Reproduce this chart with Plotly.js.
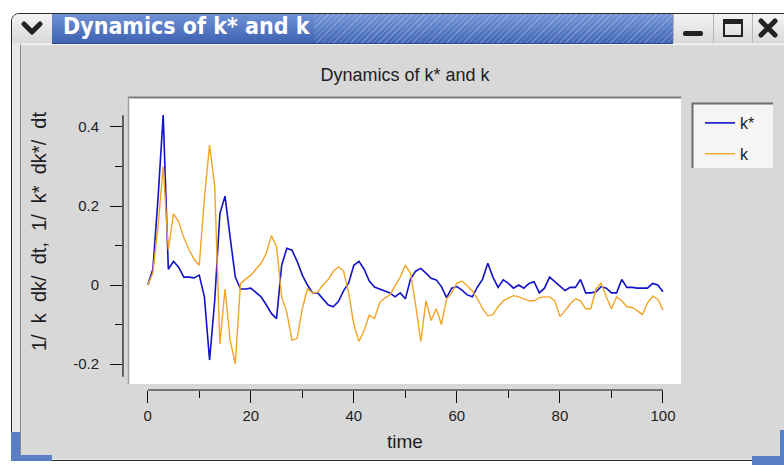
<!DOCTYPE html>
<html><head><meta charset="utf-8">
<script src="https://cdn.plot.ly/plotly-3.0.1.min.js"></script>
<style>
html,body{margin:0;padding:0;background:#fff;width:784px;height:465px;overflow:hidden;}
#win{position:absolute;left:11px;top:13px;width:790px;height:446px;border:1px solid #2a2a2a;border-radius:8px 0 0 0;background:#e8e8e8;}
#content{position:absolute;left:20px;top:44px;width:780px;height:414px;background:#d8d8d8;border-left:1px solid #8c8c8c;border-top:1px solid #f2f2f2;}
#tbar{position:absolute;left:52px;top:14px;width:621px;height:29px;
 background:repeating-linear-gradient(135deg,rgba(255,255,255,0) 0px,rgba(255,255,255,0) 3px,rgba(255,255,255,0.22) 3px,rgba(255,255,255,0.22) 4px),linear-gradient(to bottom,#7396d8,#4366b6);
 border-bottom:1px solid #2c4a8a;}
#tbarL{position:absolute;left:52px;top:14px;width:262px;height:29px;background:linear-gradient(to bottom,#6f92d6,#3f62b2);}
#ttext{position:absolute;left:63px;top:13px;height:29px;line-height:29px;color:#fff;font:bold 23px "DejaVu Sans Condensed","DejaVu Sans",sans-serif;white-space:nowrap;}
.btn{position:absolute;top:14px;height:29px;background:linear-gradient(to bottom,#f4f4f4,#d9d9d9);border-left:1px solid #b5b5b5;}
#plot{position:absolute;left:0;top:0;width:784px;height:465px;}
.blue{position:absolute;background:#5a7ec6;}
</style></head>
<body>
<div id="win"></div>
<div id="content"></div>
<div class="btn" style="left:12px;width:40px;border-left:none;border-radius:7px 0 0 0;">
 <svg width="40" height="29"><polyline points="12,10 20,18 28,10" fill="none" stroke="#222" stroke-width="5" stroke-linejoin="round" stroke-linecap="round"/></svg></div>
<div id="tbar"></div>
<div id="tbarL"></div>
<div id="ttext">Dynamics of k* and k</div>
<div class="btn" style="left:673px;width:39px;"><svg width="39" height="29"><rect x="9" y="17" width="20" height="5" rx="2" fill="#222"/></svg></div>
<div class="btn" style="left:713px;width:38px;"><svg width="38" height="29"><rect x="10" y="6" width="18" height="16" fill="none" stroke="#222" stroke-width="2"/><rect x="10" y="6" width="18" height="4" fill="#222"/></svg></div>
<div class="btn" style="left:752px;width:32px;"><svg width="32" height="29"><path d="M8,7 L22,21 M22,7 L8,21" stroke="#222" stroke-width="5" stroke-linecap="round"/></svg></div>
<div class="blue" style="left:11px;top:432px;width:9px;height:28px;"></div>
<div class="blue" style="left:11px;top:455px;width:41px;height:6px;"></div>
<div class="blue" style="left:752px;top:456px;width:32px;height:9px;"></div>
<div class="blue" style="left:780px;top:430px;width:4px;height:35px;"></div>
<div id="plot"></div>
<script>
// ---- data ----
var time = [0,1,2,3,4,5,6,7,8,9,10,11,12,13,14,15,16,17,18,19,20,21,22,23,24,25,26,27,28,29,30,31,32,33,34,35,36,37,38,39,40,41,42,43,44,45,46,47,48,49,50,51,52,53,54,55,56,57,58,59,60,61,62,63,64,65,66,67,68,69,70,71,72,73,74,75,76,77,78,79,80,81,82,83,84,85,86,87,88,89,90,91,92,93,94,95,96,97,98,99,100];
var kStarRate = [
 0, 0.04, 0.22, 0.43, 0.04, 0.06, 0.045, 0.02, 0.02, 0.018,
 0.025, -0.03, -0.19, -0.04, 0.18, 0.225, 0.12, 0.02, -0.01, -0.01,
 -0.008, -0.02, -0.03, -0.05, -0.072, -0.085, 0.05, 0.093, 0.088, 0.06,
 0.025, 0, -0.02, -0.02, -0.034, -0.05, -0.055, -0.042, -0.015, 0.005,
 0.05, 0.06, 0.04, 0.01, -0.005, -0.01, -0.015, -0.02, -0.03, -0.02,
 -0.035, 0.015, 0.035, 0.042, 0.03, 0.017, 0.013, -0.004, -0.032, -0.008,
 -0.004, -0.013, -0.025, -0.03, -0.005, 0.015, 0.055, 0.02, -0.006, 0.013,
 0.004, -0.008, 0, -0.008, 0.004, 0.008, -0.02, -0.008, 0.02, 0.008,
 -0.004, -0.014, -0.006, -0.006, 0.014, -0.02, -0.02, -0.017, -0.004, -0.008,
 -0.02, -0.02, 0.014, -0.006, -0.006, -0.008, -0.008, -0.008, 0.004, 0,
 -0.017];
var kRate = [
 0, 0.03, 0.15, 0.3, 0.09, 0.18, 0.16, 0.12, 0.09, 0.065,
 0.05, 0.22, 0.354, 0.25, -0.15, -0.01, -0.14, -0.2, 0.004, 0.015,
 0.025, 0.04, 0.055, 0.08, 0.125, 0.097, -0.03, -0.07, -0.14, -0.135,
 -0.06, -0.01, -0.02, -0.018, 0, 0.013, 0.034, 0.046, 0.036, -0.02,
 -0.1, -0.143, -0.115, -0.076, -0.085, -0.045, -0.033, -0.025, -0.003, 0.02,
 0.05, 0.03, -0.05, -0.143, -0.04, -0.09, -0.06, -0.1, -0.035, -0.02,
 0.005, 0.01, -0.002, -0.015, -0.035, -0.06, -0.078, -0.075, -0.055, -0.04,
 -0.033, -0.027, -0.03, -0.036, -0.04, -0.04, -0.032, -0.03, -0.03, -0.04,
 -0.08, -0.065, -0.048, -0.035, -0.04, -0.06, -0.06, -0.01, 0.005, -0.03,
 -0.06, -0.03, -0.04, -0.055, -0.057, -0.065, -0.075, -0.045, -0.028, -0.036,
 -0.063];
var seriesNames = ['k*', 'k'];
var xTickVals = [0, 20, 40, 60, 80, 100];
var xTickText = ['0', '20', '40', '60', '80', '100'];
var xMinorVals = [10, 30, 50, 70, 90];
var yTickVals = [-0.2, 0, 0.2, 0.4];
var yTickText = ['-0.2', '0', '0.2', '0.4'];
var yMinorVals = [-0.1, 0.1, 0.3];
var chartTitle = 'Dynamics of k* and k';
var xTitle = 'time';
var yTitle = '1/\u00a0 k\u00a0 dk/\u00a0 dt,\u00a0 1/\u00a0 k*\u00a0 dk*/\u00a0 dt';

// ---- styling ----
var FONT = 'Liberation Sans, Arial, Helvetica, sans-serif';
var TXT = '#1e1e1e';
var PW = 558, PH = 292; // plot area px
function px2x(p){ return (p - 123) / PW; }
function py2y(p){ return (390 - p) / PH; }

var traces = [
 {x: time, y: kStarRate, name: seriesNames[0], type: 'scatter', mode: 'lines',
  line: {color: '#1212c8', width: 1.6}, legendgroup: 'a'},
 {x: time, y: kRate, name: seriesNames[1], type: 'scatter', mode: 'lines',
  line: {color: '#f2a526', width: 1.4}, legendgroup: 'b'}
];

var shapes = [
 // white plotting panel
 {type:'rect', xref:'paper', yref:'paper', x0:px2x(128), x1:px2x(681), y0:py2y(384), y1:py2y(97), fillcolor:'#ffffff', line:{width:0}, layer:'below'},
 {type:'line', xref:'paper', yref:'paper', x0:px2x(128), x1:px2x(681), y0:py2y(97.5), y1:py2y(97.5), line:{color:'#7a7a7a', width:2}, layer:'below'},
 {type:'line', xref:'paper', yref:'paper', x0:px2x(128.5), x1:px2x(128.5), y0:py2y(384), y1:py2y(97), line:{color:'#9c9c9c', width:1.5}, layer:'below'},
 // axis lines
 {type:'line', xref:'x', yref:'paper', x0:0, x1:100, y0:0, y1:0, line:{color:'#111', width:1.2}},
 {type:'line', xref:'paper', yref:'y', x0:0, x1:0, y0:-0.232, y1:0.43, line:{color:'#111', width:1.2}},
 // legend panel
 {type:'rect', xref:'paper', yref:'paper', x0:px2x(692), x1:px2x(773), y0:py2y(168), y1:py2y(103), fillcolor:'#f5f5f5', line:{width:0}, layer:'below'},
 {type:'line', xref:'paper', yref:'paper', x0:px2x(692), x1:px2x(773), y0:py2y(103.5), y1:py2y(103.5), line:{color:'#6c6c6c', width:2}},
 {type:'line', xref:'paper', yref:'paper', x0:px2x(692.5), x1:px2x(692.5), y0:py2y(168), y1:py2y(103), line:{color:'#6c6c6c', width:2}}
];

var layout = {
 width: 784, height: 465,
 margin: {l:123, r:103, t:98, b:75, pad:0},
 paper_bgcolor: 'rgba(0,0,0,0)', plot_bgcolor: 'rgba(0,0,0,0)',
 font: {family: FONT, size: 14, color: TXT},
 title: {text: chartTitle, xref:'container', yref:'container', x: 405/784, y: 1 - 75/465,
         xanchor:'center', yanchor:'middle', font:{family: FONT, size: 18, color: TXT}},
 xaxis: {range:[-4.8, 103.5], showgrid:false, zeroline:false, showline:false,
         tickmode:'array', tickvals: xTickVals, ticktext: xTickText,
         ticks:'outside', ticklen:12, tickwidth:1, tickcolor:'#111',
         minor:{tickmode:'array', tickvals: xMinorVals, ticks:'outside', ticklen:7, tickwidth:1, tickcolor:'#111'},
         tickfont:{family: FONT, size:15, color: TXT}, fixedrange:true},
 yaxis: {range:[-0.2658, 0.4734], showgrid:false, zeroline:false, showline:false,
         tickmode:'array', tickvals: yTickVals, ticktext: yTickText,
         ticks:'outside', ticklen:12, tickwidth:1, tickcolor:'#111', ticklabelstandoff: 8,
         minor:{tickmode:'array', tickvals: yMinorVals, ticks:'outside', ticklen:7, tickwidth:1, tickcolor:'#111'},
         tickfont:{family: FONT, size:15, color: TXT}, fixedrange:true},
 showlegend: true,
 legend: {x: px2x(700), y: py2y(106), xanchor:'left', yanchor:'top', bgcolor:'rgba(0,0,0,0)', borderwidth:0,
          font:{family: FONT, size:16, color: TXT}, traceorder:'grouped', tracegroupgap: 7},
 shapes: shapes,
 annotations: [
  {text: xTitle, xref:'paper', yref:'paper', x: px2x(405), y: py2y(441), xanchor:'center', yanchor:'middle', showarrow:false, font:{family: FONT, size:19, color: TXT}},
  {text: yTitle, xref:'paper', yref:'paper', x: px2x(39), y: py2y(232), xanchor:'center', yanchor:'middle', textangle:-90, showarrow:false, font:{family: FONT, size:20, color: TXT}}
 ]
};

Plotly.newPlot('plot', traces, layout, {displayModeBar:false, staticPlot:true});
</script>
</body></html>
